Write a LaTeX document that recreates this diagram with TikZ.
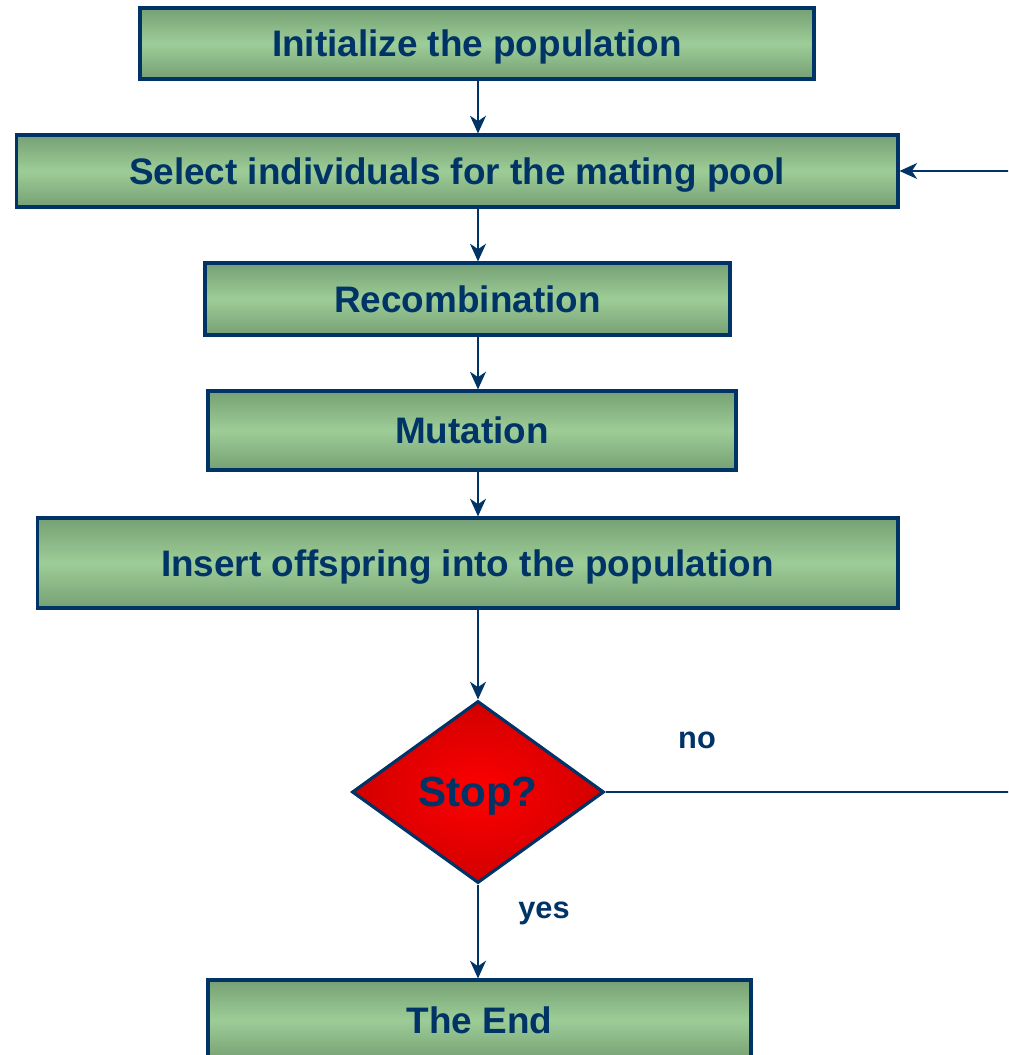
\documentclass[tikz,border=0pt]{standalone}
\usepackage{fontspec}
\setmainfont{Liberation Sans}
\usetikzlibrary{shapes.geometric,arrows.meta}
\definecolor{navy}{RGB}{0,51,102}
\definecolor{leafdark}{RGB}{118,160,116}
\definecolor{leaflight}{RGB}{157,205,151}

\begin{document}
\begin{tikzpicture}[x=0.02cm, y=-0.02cm,
    stage/.style={draw=navy, line width=1.8pt, top color=leafdark,
      bottom color=leafdark, middle color=leaflight, text=navy,
      font=\fontsize{21}{25}\selectfont\bfseries, inner sep=0pt,
      text depth=0pt},
    decision/.style={diamond, draw=navy, line width=1.8pt, inner color=red,
      outer color=red!82!black, text=navy, aspect=1.385, inner sep=0pt,
      minimum width=5.04cm, minimum height=3.64cm, text depth=0pt,
      font=\fontsize{24}{28}\selectfont\bfseries},
    flow/.style={draw=navy, line width=1.5pt,
      -{Stealth[length=10pt, width=9pt, inset=3pt]}},
    lbl/.style={text=navy, font=\fontsize{17.5}{21}\selectfont\bfseries}]
    \useasboundingbox (0,0) rectangle (1008,1055);
    \clip (0,0) rectangle (1008,1055);

    % Stages
    \node[stage, minimum width=13.48cm, minimum height=1.42cm] (init) at (477,43.5) {Initialize the population};
    \node[stage, minimum width=17.64cm, minimum height=1.44cm] (select) at (457,171) {Select individuals for the mating pool};
    \node[stage, minimum width=10.5cm, minimum height=1.44cm] (recomb) at (467.5,299) {Recombination};
    \node[stage, minimum width=10.56cm, minimum height=1.58cm] (mutate) at (472,430.5) {Mutation};
    \node[stage, minimum width=17.22cm, minimum height=1.8cm] (insert) at (467.5,563) {Insert offspring into the population};
    \node[decision] (stop) at (478,792) {Stop?};
    \node[stage, minimum width=10.86cm, minimum height=1.6cm] (end) at (479.5,1020) {The End};

    % Labels
    \node[lbl] (no) at (697,740) {no};
    \node[lbl] (yes) at (544,913) {yes};

    % Flow
    \draw[flow] (init.south -| stop) -- (select.north -| stop);
    \draw[flow] (select.south -| stop) -- (recomb.north -| stop);
    \draw[flow] (recomb.south -| stop) -- (mutate.north -| stop);
    \draw[flow] (mutate.south -| stop) -- (insert.north -| stop);
    \draw[flow] (insert.south -| stop) -- (stop.north);
    \draw[flow] (stop.south) -- (end.north -| stop);
    % Loop back (runs off the right edge)
    \coordinate (back) at (1030,792);
    \draw[flow] (stop.east) -- (back) |- (select.east);
\end{tikzpicture}
\end{document}
